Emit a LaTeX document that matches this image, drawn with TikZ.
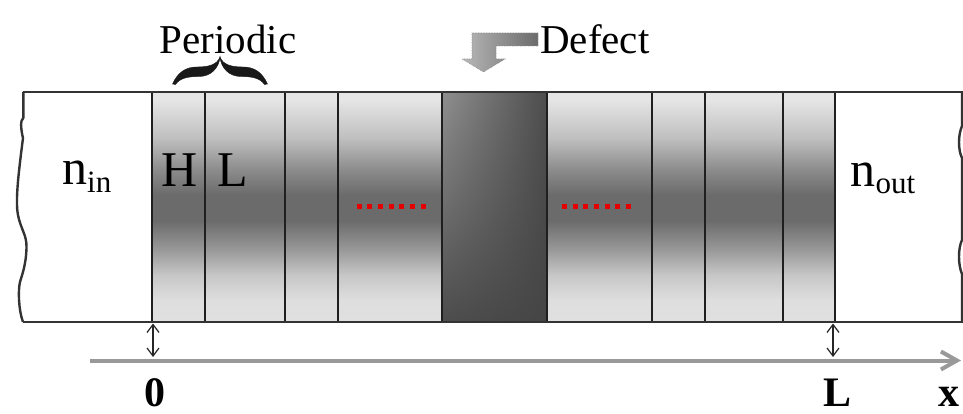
\documentclass[tikz,border=0pt]{standalone}
\usepackage{fontspec}
\setmainfont{Liberation Serif}
\usetikzlibrary{arrows.meta,shadings}

% light - dark - light profile of each periodic layer
\pgfdeclareverticalshading{layergrad}{100bp}{%
  color(0bp)=(black!12); color(25bp)=(black!12); color(29.8bp)=(black!13);
  color(35.2bp)=(black!22); color(40.7bp)=(black!40); color(47bp)=(black!58);
  color(52.6bp)=(black!58); color(57.8bp)=(black!46); color(65bp)=(black!25);
  color(73.3bp)=(black!10); color(75bp)=(black!10); color(100bp)=(black!10)}

\tikzset{
  layer/.style={shading=layergrad},
  wall/.style={draw=black!88, line width=2.2pt},
  edge/.style={draw=black!80, line width=2.2pt, line join=round},
  dot/.style={fill=red!90!black, draw=none},
  lbl/.style={inner sep=0pt, anchor=base, font=\fontsize{50}{60}\selectfont},
  captext/.style={inner sep=0pt, anchor=base, font=\fontsize{41}{48}\selectfont},
  axlbl/.style={inner sep=0pt, anchor=base, font=\fontsize{42}{50}\selectfont\bfseries},
  axis/.style={draw=black!40, line width=4pt, -{Straight Barb[length=16pt,width=18pt]}},
  gap/.style={draw=black!85, line width=1.2pt,
    {Straight Barb[length=8pt,width=12pt]}-{Straight Barb[length=8pt,width=12pt]}},
  bracefill/.style={fill=black!90, draw=black!90, line width=0.4pt},
}

\begin{document}
\begin{tikzpicture}[x=1pt, y=-1pt]
\useasboundingbox (0,0) rectangle (963,414);

% periodic layers
\foreach \a/\b in {152/205,205/285,285/338,338/442,547/652,652/705,705/783,783/835}
  \shade[layer] (\a,92) rectangle (\b,322);

% defect layer
\shade[upper left=black!44, upper right=black!70, lower left=black!70, lower right=black!73]
  (442,92) rectangle (547,322);

% layer interfaces
\foreach \x in {152,205,285,338,442,547,652,705,783,835}
  \draw[wall] (\x,92) -- (\x,322);

% top and bottom faces
\draw[edge] (23.3,92) -- (963,92);
\draw[edge] (23,322) -- (963,322);

% torn left end
\draw[edge, line width=2.4pt] (23.3,92) -- (23.3,118)
  .. controls (20,120) and (21,130) .. (23,138)
  .. controls (19,170) and (15,200) .. (18,215)
  .. controls (21,230) and (27,235) .. (26.5,248)
  .. controls (26,265) and (22,275) .. (20,282)
  .. controls (18,290) and (18.5,310) .. (23,322);

% torn right end
\draw[edge, line width=2.4pt] (962,92) -- (962,126)
  .. controls (958,135) and (958,150) .. (962,158)
  -- (962,240)
  .. controls (958,248) and (958,265) .. (962,274)
  -- (962,322);

% red ellipsis dots
\foreach \i in {0,...,6} {
  \fill[dot] ({356.5+10.7*\i},204.2) rectangle ++(5,5);
  \fill[dot] ({561.8+10.7*\i},204.2) rectangle ++(5,5);
}

% labels inside the stack
\node[lbl, anchor=base west] (nin) at (62,185)
  {n\raisebox{-8pt}{\fontsize{31}{31}\selectfont in}};
\node[lbl] (H) at (179.5,186) {H};
\node[lbl] (Lay) at (232.5,186) {L};
\node[lbl, anchor=base west] (nout) at (850.5,186)
  {n\raisebox{-7.5pt}{\fontsize{31}{31}\selectfont out}};

% period brace (tapered, two mirrored halves) and caption
\node[captext] (per) at (228,53.5) {Periodic};
\foreach \s in {1,-1}
  \filldraw[bracefill, xshift=220pt, xscale=\s]
    (-47.5,84) .. controls (-42,72) and (-34,67) .. (-23,67)
    .. controls (-12,67) and (-3,65) .. (0,57)
    .. controls (-1,68) and (-9,76.5) .. (-21,76.5)
    .. controls (-32,76.5) and (-40,78) .. (-44.5,84.5) -- cycle;

% defect pointer
\shade[left color=black!28, right color=black!58, draw=black!45, densely dotted, line width=0.6pt]
  (538,33) -- (472,33) -- (472,59) -- (462,59) -- (483.5,72) -- (505,59)
  -- (496,59) -- (496,46) -- (538,46) -- cycle;
\node[captext, anchor=base west] (def) at (540,53.5) {Defect};

% x axis
\coordinate (ax0) at (90,360.5);
\coordinate (ax1) at (961,360.5);
\draw[axis] (ax0) -- (ax1);

% distance markers to the axis
\coordinate (g0t) at (153,323.5);
\coordinate (g0b) at (153,357);
\coordinate (g1t) at (833,323.5);
\coordinate (g1b) at (833,357);
\draw[gap] (g0t) -- (g0b);
\draw[gap] (g1t) -- (g1b);

% axis labels
\node[axlbl] (zero) at (155,406) {0};
\node[axlbl] (len) at (837.5,406) {L};
\node[axlbl] (xl) at (949,406) {x};
\end{tikzpicture}
\end{document}
